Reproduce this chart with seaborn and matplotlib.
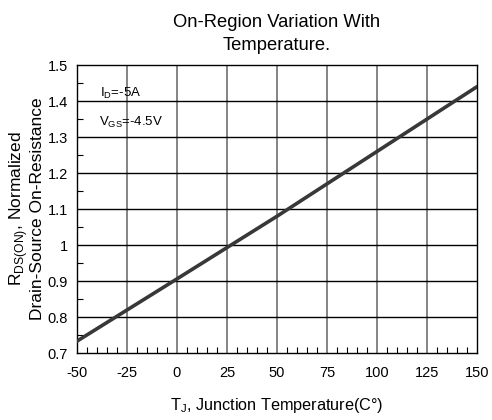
import numpy as np
import pandas as pd
import matplotlib
matplotlib.use('Agg')
import matplotlib.pyplot as plt
from matplotlib.ticker import MultipleLocator
import seaborn as sns

# Values
temps = [-50, 0, 50, 100, 150]
rdson = [0.733, 0.906, 1.08, 1.26, 1.44]
xticks = [-50, -25, 0, 25, 50, 75, 100, 125, 150]
yticks = [0.7, 0.8, 0.9, 1.0, 1.1, 1.2, 1.3, 1.4, 1.5]
ytick_labels = ['0.7', '0.8', '0.9', '1', '1.1', '1.2', '1.3', '1.4', '1.5']

sns.set_style('white')
plt.rcParams['font.family'] = ['Liberation Sans', 'DejaVu Sans']
plt.rcParams['mathtext.fontset'] = 'custom'
plt.rcParams['mathtext.rm'] = 'Liberation Sans'
plt.rcParams['axes.unicode_minus'] = False
plt.rcParams['text.color'] = 'black'
plt.rcParams['axes.labelcolor'] = 'black'
plt.rcParams['xtick.color'] = 'black'
plt.rcParams['ytick.color'] = 'black'

df = pd.DataFrame({'T': temps, 'R': rdson})

fig = plt.figure(figsize=(4.92, 4.2), dpi=100)
ax = fig.add_axes([0.1565, 0.1595, 0.813, 0.6855])

# grid: vertical grey, horizontal black
for x in xticks[1:-1]:
    ax.axvline(x, color='#707070', lw=1.2, zorder=1)
for y in yticks[1:-1]:
    ax.axhline(y, color='black', lw=1.0, zorder=1)

sns.lineplot(data=df, x='T', y='R', ax=ax, color='#383838', lw=2.6, zorder=3)

ax.set_xlim(-50, 150)
ax.set_ylim(0.7, 1.5)
ax.set_xticks(xticks)
ax.set_yticks(yticks)
ax.set_yticklabels(ytick_labels)
ax.xaxis.set_minor_locator(MultipleLocator(5))
ax.yaxis.set_minor_locator(MultipleLocator(0.05))
ax.tick_params(axis='x', which='major', length=0, labelsize=10.5, pad=9)
ax.tick_params(axis='y', which='major', length=0, labelsize=10.5, pad=6.5)
ax.tick_params(axis='x', which='minor', direction='in', length=4, width=0.8, bottom=True)
ax.tick_params(axis='y', which='minor', direction='in', length=4, width=0.8, left=True)
for s in ax.spines.values():
    s.set_color('black')
    s.set_linewidth(1.0)

ax.text(-38.5, 1.411, r'I$_\mathregular{D}$=-5A', fontsize=9.5, va='baseline')
ax.text(-39, 1.331, r'V$_\mathregular{GS}$=-4.5V', fontsize=9.5, va='baseline')

ax.set_xlabel(r'T$_\mathregular{J}$, Junction Temperature(C°)', fontsize=11.7, labelpad=12)
ax.set_ylabel('R$_\\mathregular{DS(ON)}$, Normalized\nDrain-Source On-Resistance',
              fontsize=12.5, labelpad=2, linespacing=1.0)
ax.set_title('On-Region Variation With\nTemperature.', fontsize=13.2, pad=11,
             linespacing=1.45)

fig.savefig('out.png', dpi=100)
